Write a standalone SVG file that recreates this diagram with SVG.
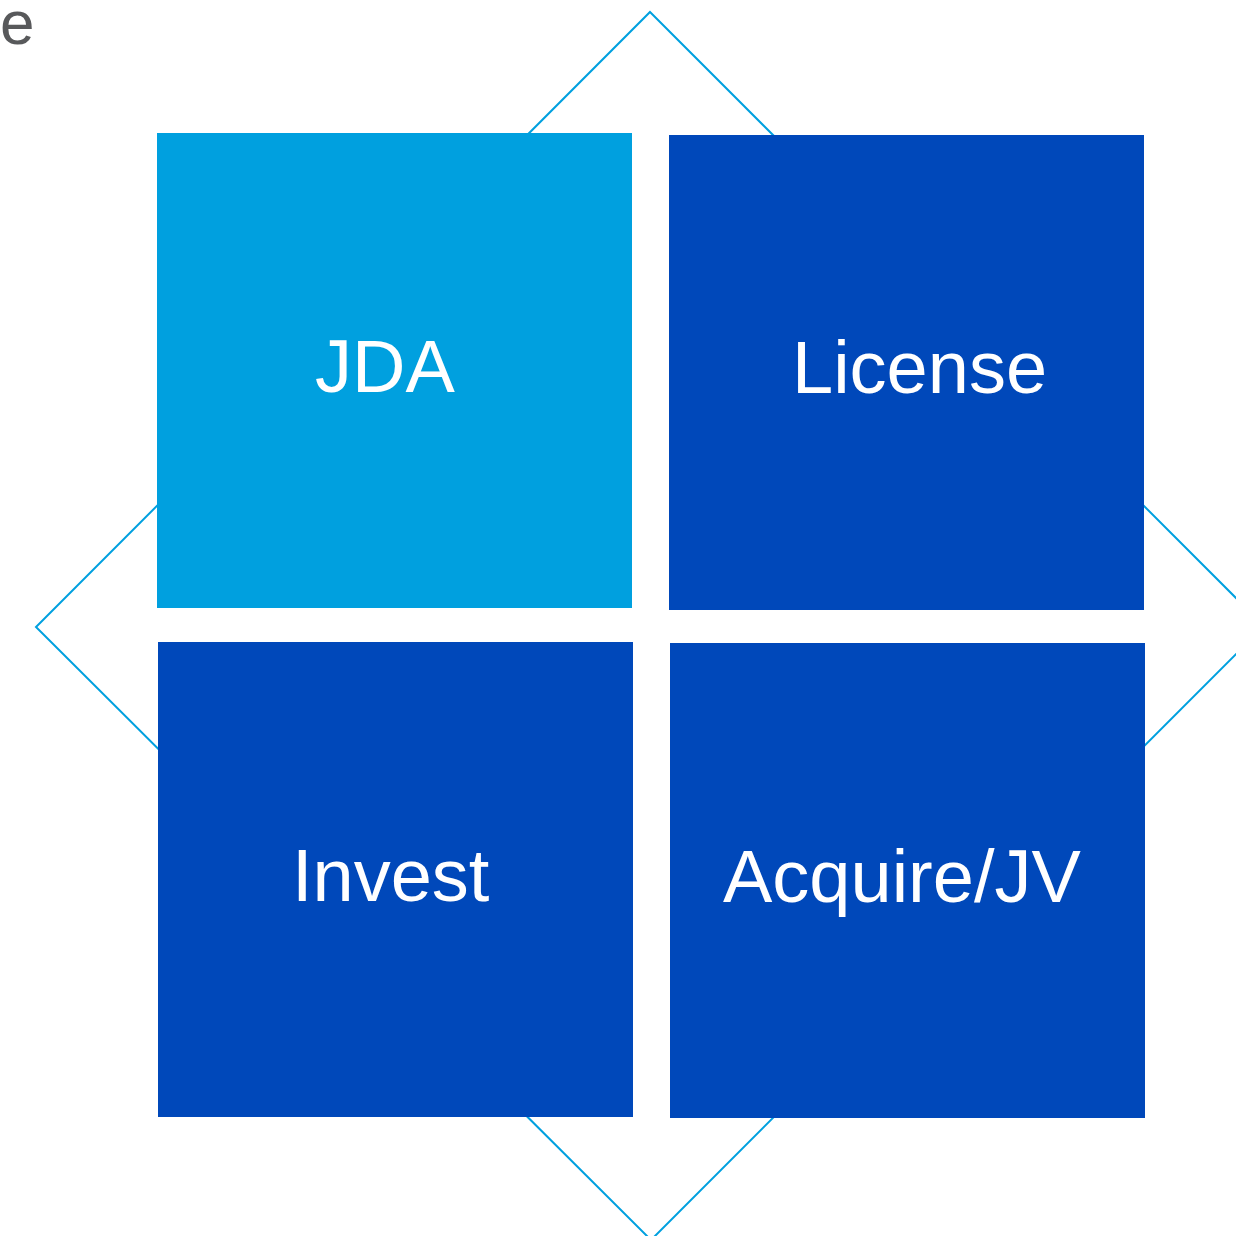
<svg xmlns="http://www.w3.org/2000/svg" width="1236" height="1236" viewBox="0 0 1236 1236">
  <style>
    .box { stroke: none; }
    .light { fill: #00A0DF; }
    .dark { fill: #0048BA; }
    .label { font-family: "Liberation Sans", Arial, sans-serif; font-size: 74px; fill: #FFFFFF; }
    .frame { fill: none; stroke: #00A0DF; stroke-width: 2; }
  </style>
  <rect x="0" y="0" width="1236" height="1236" fill="#FFFFFF"/>
  <text x="0" y="44" font-family="Liberation Sans, Arial, sans-serif" font-size="62" fill="#58595B">e</text>
  <g id="connectors">
    <polygon class="frame" points="650,12 1264,626 651,1240 36,627"/>
  </g>
  <g id="node-jda">
    <rect class="box light" x="157" y="133" width="475" height="475"/>
    <text class="label" x="315" y="392">JDA</text>
  </g>
  <g id="node-license">
    <rect class="box dark" x="669" y="135" width="475" height="475"/>
    <text class="label" x="792" y="393">License</text>
  </g>
  <g id="node-invest">
    <rect class="box dark" x="158" y="642" width="475" height="475"/>
    <text class="label" x="292" y="901">Invest</text>
  </g>
  <g id="node-acquire">
    <rect class="box dark" x="670" y="643" width="475" height="475"/>
    <text class="label" x="723" y="902">Acquire/JV</text>
  </g>
</svg>
